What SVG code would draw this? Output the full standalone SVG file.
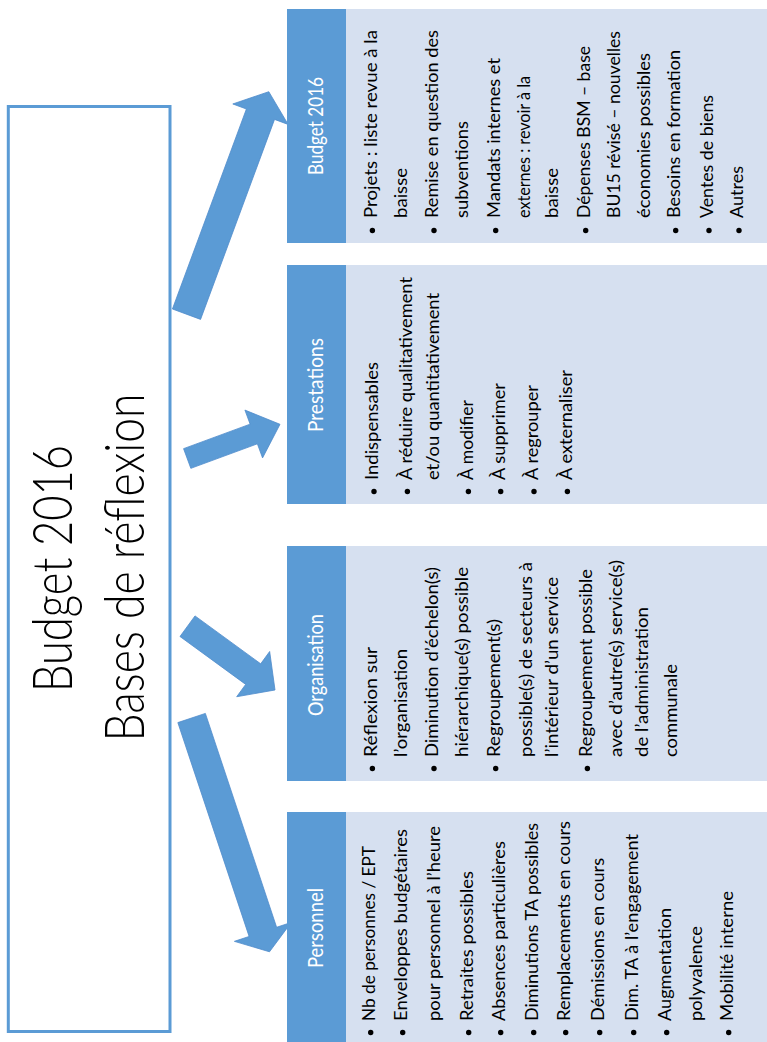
<svg xmlns="http://www.w3.org/2000/svg" width="767" height="1042" viewBox="0 0 767 1042">
<style>
.hd{fill:#5b9bd5}
.bd{fill:#d6e0f0}
.hl{fill:#ffffff;font-family:Lato,"Liberation Sans",sans-serif;font-size:21px;text-anchor:middle}
.it{fill:#000000;font-family:Lato,"Liberation Sans",sans-serif;font-size:16.8px}
.bl{fill:#000000}
.ar{fill:#5b9bd5;stroke:#4f8ccb;stroke-width:0.8;stroke-linejoin:miter}
.tt{fill:#000000;font-family:Lato,"Open Sans","Liberation Sans",sans-serif;font-weight:300;font-size:56px;text-anchor:middle}
</style>
<rect width="767" height="1042" fill="#ffffff"/>
<g id="main-box">
<rect x="8.3" y="106.5" width="161.7" height="925" fill="#ffffff" stroke="#5b9bd5" stroke-width="3"/>
<text class="tt" transform="translate(72,568.5) rotate(-90)" textLength="247" lengthAdjust="spacingAndGlyphs">Budget 2016</text>
<text class="tt" transform="translate(143.5,567.5) rotate(-90)" textLength="348" lengthAdjust="spacingAndGlyphs">Bases de réflexion</text>
</g>
<g id="connectors">
<polygon class="ar" points="200.57,319.4 274.54,119.4 288.14,124.44 268.8,91.7 232.8,103.96 246.4,109.0 172.43,309.0"/>
<polygon class="ar" points="190.83,468.35 257.37,443.84 262.56,457.91 280,424.3 244.92,410.07 250.11,424.14 183.57,448.65"/>
<polygon class="ar" points="179.99,636.5 245.67,684.4 236.69,696.72 275,690 269.67,651.48 260.69,663.8 195.01,615.9"/>
<polygon class="ar" points="205.36,713.42 276.62,927.29 291.33,922.39 269.5,951.8 234.39,941.35 249.1,936.45 177.84,722.58"/>
</g>
<g id="budget2016">
<rect class="bd" x="346" y="9" width="421" height="234"/>
<rect class="hd" x="287" y="9" width="59" height="234"/>
<text class="hl" transform="translate(323,126) rotate(-90)" textLength="98" lengthAdjust="spacingAndGlyphs">Budget 2016</text>
<g transform="translate(0,243) rotate(-90)">
<circle class="bl" cx="12.5" cy="372.4" r="2.7"/>
<circle class="bl" cx="12.5" cy="434" r="2.7"/>
<circle class="bl" cx="12.5" cy="495.7" r="2.7"/>
<circle class="bl" cx="12.5" cy="585.7" r="2.7"/>
<circle class="bl" cx="12.5" cy="675.7" r="2.7"/>
<circle class="bl" cx="12.5" cy="709" r="2.7"/>
<circle class="bl" cx="12.5" cy="739" r="2.7"/>
<text class="it" x="25" y="376.7" textLength="188" lengthAdjust="spacingAndGlyphs">Projets : liste revue à la</text>
<text class="it" x="25" y="406.7" textLength="50" lengthAdjust="spacingAndGlyphs">baisse</text>
<text class="it" x="25" y="438.3" textLength="188" lengthAdjust="spacingAndGlyphs">Remise en question des</text>
<text class="it" x="25" y="468.3" textLength="97" lengthAdjust="spacingAndGlyphs">subventions</text>
<text class="it" x="25" y="500" textLength="160" lengthAdjust="spacingAndGlyphs">Mandats internes et</text>
<text class="it" x="25" y="530" textLength="142" lengthAdjust="spacingAndGlyphs">externes : revoir à la</text>
<text class="it" x="25" y="558.3" textLength="50" lengthAdjust="spacingAndGlyphs">baisse</text>
<text class="it" x="25" y="590" textLength="172" lengthAdjust="spacingAndGlyphs">Dépenses BSM – base</text>
<text class="it" x="25" y="620" textLength="187" lengthAdjust="spacingAndGlyphs">BU15 révisé – nouvelles</text>
<text class="it" x="25" y="650" textLength="165" lengthAdjust="spacingAndGlyphs">économies possibles</text>
<text class="it" x="25" y="680" textLength="168" lengthAdjust="spacingAndGlyphs">Besoins en formation</text>
<text class="it" x="25" y="713.3" textLength="123" lengthAdjust="spacingAndGlyphs">Ventes de biens</text>
<text class="it" x="25" y="743.3" textLength="52" lengthAdjust="spacingAndGlyphs">Autres</text>
</g>
</g>
<g id="prestations">
<rect class="bd" x="346" y="265" width="421" height="239"/>
<rect class="hd" x="287" y="265" width="59" height="239"/>
<text class="hl" transform="translate(323,385) rotate(-90)" textLength="94" lengthAdjust="spacingAndGlyphs">Prestations</text>
<g transform="translate(0,504) rotate(-90)">
<circle class="bl" cx="12.5" cy="374" r="2.7"/>
<circle class="bl" cx="12.5" cy="407.4" r="2.7"/>
<circle class="bl" cx="12.5" cy="468.4" r="2.7"/>
<circle class="bl" cx="12.5" cy="500.7" r="2.7"/>
<circle class="bl" cx="12.5" cy="534" r="2.7"/>
<circle class="bl" cx="12.5" cy="567.4" r="2.7"/>
<text class="it" x="24" y="378.3" textLength="118" lengthAdjust="spacingAndGlyphs">Indispensables</text>
<text class="it" x="24" y="411.7" textLength="203" lengthAdjust="spacingAndGlyphs">À réduire qualitativement</text>
<text class="it" x="24" y="439.3" textLength="187" lengthAdjust="spacingAndGlyphs">et/ou quantitativement</text>
<text class="it" x="24" y="472.7" textLength="80" lengthAdjust="spacingAndGlyphs">À modifier</text>
<text class="it" x="24" y="505" textLength="97" lengthAdjust="spacingAndGlyphs">À supprimer</text>
<text class="it" x="24" y="538.3" textLength="95" lengthAdjust="spacingAndGlyphs">À regrouper</text>
<text class="it" x="24" y="571.7" textLength="110" lengthAdjust="spacingAndGlyphs">À externaliser</text>
</g>
</g>
<g id="organisation">
<rect class="bd" x="346" y="546" width="421" height="235"/>
<rect class="hd" x="287" y="546" width="59" height="235"/>
<text class="hl" transform="translate(323,665) rotate(-90)" textLength="102" lengthAdjust="spacingAndGlyphs">Organisation</text>
<g transform="translate(0,781) rotate(-90)">
<circle class="bl" cx="12.5" cy="372.4" r="2.7"/>
<circle class="bl" cx="12.5" cy="434" r="2.7"/>
<circle class="bl" cx="12.5" cy="495.7" r="2.7"/>
<circle class="bl" cx="12.5" cy="587.4" r="2.7"/>
<text class="it" x="24" y="376.7" textLength="110" lengthAdjust="spacingAndGlyphs">Réflexion sur</text>
<text class="it" x="24" y="406.7" textLength="108" lengthAdjust="spacingAndGlyphs">l’organisation</text>
<text class="it" x="24" y="438.3" textLength="190" lengthAdjust="spacingAndGlyphs">Diminution d’échelon(s)</text>
<text class="it" x="24" y="468.3" textLength="190" lengthAdjust="spacingAndGlyphs">hiérarchique(s) possible</text>
<text class="it" x="24" y="500" textLength="138" lengthAdjust="spacingAndGlyphs">Regroupement(s)</text>
<text class="it" x="24" y="531.7" textLength="195" lengthAdjust="spacingAndGlyphs">possible(s) de secteurs à</text>
<text class="it" x="24" y="558.3" textLength="180" lengthAdjust="spacingAndGlyphs">l’intérieur d’un service</text>
<text class="it" x="24" y="591.7" textLength="188" lengthAdjust="spacingAndGlyphs">Regroupement possible</text>
<text class="it" x="24" y="621.7" textLength="197" lengthAdjust="spacingAndGlyphs">avec d’autre(s) service(s)</text>
<text class="it" x="24" y="648.3" textLength="150" lengthAdjust="spacingAndGlyphs">de l’administration</text>
<text class="it" x="24" y="676.7" textLength="93" lengthAdjust="spacingAndGlyphs">communale</text>
</g>
</g>
<g id="personnel">
<rect class="bd" x="346" y="812" width="421" height="233"/>
<rect class="hd" x="287" y="812" width="59" height="233"/>
<text class="hl" transform="translate(323,928) rotate(-90)" textLength="80" lengthAdjust="spacingAndGlyphs">Personnel</text>
<g transform="translate(0,1045) rotate(-90)">
<circle class="bl" cx="12.5" cy="370.7" r="2.7"/>
<circle class="bl" cx="12.5" cy="402.7" r="2.7"/>
<circle class="bl" cx="12.5" cy="468.7" r="2.7"/>
<circle class="bl" cx="12.5" cy="500.7" r="2.7"/>
<circle class="bl" cx="12.5" cy="533.7" r="2.7"/>
<circle class="bl" cx="12.5" cy="565.7" r="2.7"/>
<circle class="bl" cx="12.5" cy="599.7" r="2.7"/>
<circle class="bl" cx="12.5" cy="633.7" r="2.7"/>
<circle class="bl" cx="12.5" cy="666.7" r="2.7"/>
<circle class="bl" cx="12.5" cy="728.7" r="2.7"/>
<text class="it" x="24" y="375" textLength="175" lengthAdjust="spacingAndGlyphs">Nb de personnes / EPT</text>
<text class="it" x="24" y="407" textLength="192" lengthAdjust="spacingAndGlyphs">Enveloppes budgétaires</text>
<text class="it" x="24" y="440" textLength="195" lengthAdjust="spacingAndGlyphs">pour personnel à l’heure</text>
<text class="it" x="24" y="473" textLength="150" lengthAdjust="spacingAndGlyphs">Retraites possibles</text>
<text class="it" x="24" y="505" textLength="180" lengthAdjust="spacingAndGlyphs">Absences particulières</text>
<text class="it" x="24" y="538" textLength="198" lengthAdjust="spacingAndGlyphs">Diminutions TA possibles</text>
<text class="it" x="24" y="570" textLength="200" lengthAdjust="spacingAndGlyphs">Remplacements en cours</text>
<text class="it" x="24" y="604" textLength="163" lengthAdjust="spacingAndGlyphs">Démissions en cours</text>
<text class="it" x="24" y="638" textLength="187" lengthAdjust="spacingAndGlyphs">Dim. TA à l’engagement</text>
<text class="it" x="24" y="671" textLength="113" lengthAdjust="spacingAndGlyphs">Augmentation</text>
<text class="it" x="24" y="702" textLength="95" lengthAdjust="spacingAndGlyphs">polyvalence</text>
<text class="it" x="24" y="733" textLength="130" lengthAdjust="spacingAndGlyphs">Mobilité interne</text>
</g>
</g>
</svg>
